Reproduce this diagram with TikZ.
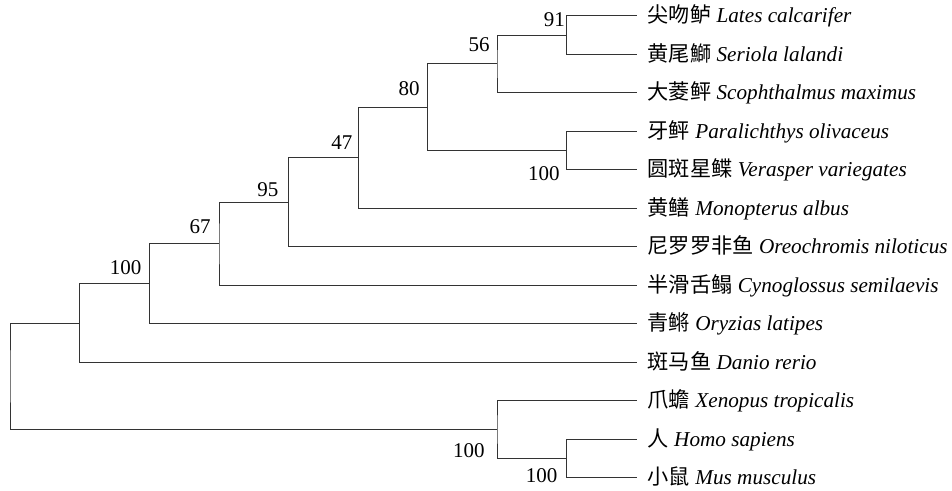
\documentclass[tikz,border=0pt]{standalone}
\usepackage{fontspec}
\setmainfont{Liberation Serif}
\newfontfamily\cjk{Noto Sans CJK SC}
\begin{document}
\begin{tikzpicture}[x=1pt,y=-1pt,
  br/.style={line width=0.9pt, draw=black!80, line join=miter},
  leaf/.style={anchor=base west, inner sep=0pt, font=\fontsize{21.2}{24}\selectfont},
  bs/.style={anchor=base east, inner sep=0pt, font=\fontsize{21}{24}\selectfont}]
\useasboundingbox (0,0) rectangle (952,490);
% leaf tips
\coordinate (t0)  at (636.7,15.7);
\coordinate (t1)  at (636.7,54.2);
\coordinate (t2)  at (636.7,92.7);
\coordinate (t3)  at (636.7,131.2);
\coordinate (t4)  at (636.7,169.7);
\coordinate (t5)  at (636.7,208.2);
\coordinate (t6)  at (636.7,246.7);
\coordinate (t7)  at (636.7,285.2);
\coordinate (t8)  at (636.7,323.7);
\coordinate (t9)  at (636.7,362.2);
\coordinate (t10) at (636.7,400.7);
\coordinate (t11) at (636.7,439.2);
\coordinate (t12) at (636.7,477.7);
% internal nodes
\coordinate (n91)   at (566.7,34.95);
\coordinate (n56)   at (497.0,63.8);
\coordinate (nF)    at (566.7,150.45);
\coordinate (n80)   at (427.3,107.1);
\coordinate (n47)   at (358.3,157.7);
\coordinate (n95)   at (288.7,202.2);
\coordinate (n67)   at (219.0,243.7);
\coordinate (n100)  at (149.5,283.7);
\coordinate (nfish) at (79.8,322.95);
\coordinate (nM)    at (566.7,458.45);
\coordinate (nT)    at (497.0,429.6);
\coordinate (root)  at (10.0,376.3);
% branches
\draw[br] (t0) -| (n91) |- (t1);
\draw[br] (n91) -| (n56) |- (t2);
\draw[br] (t3) -| (nF) |- (t4);
\draw[br] (n56) -| (n80) |- (nF);
\draw[br] (n80) -| (n47) |- (t5);
\draw[br] (n47) -| (n95) |- (t6);
\draw[br] (n95) -| (n67) |- (t7);
\draw[br] (n67) -| (n100) |- (t8);
\draw[br] (n100) -| (nfish) |- (t9);
\draw[br] (t11) -| (nM) |- (t12);
\draw[br] (t10) -| (nT) |- (nM);
\draw[br] (nfish) -| (root) |- (nT);
% leaf labels
\node[leaf] (l0)  at (647.5,22.9)  {{\cjk 尖吻鲈} \textit{Lates calcarifer}};
\node[leaf] (l1)  at (647.5,61.4)  {{\cjk 黄尾鰤} \textit{Seriola lalandi}};
\node[leaf] (l2)  at (647.5,99.9)  {{\cjk 大菱鲆} \textit{Scophthalmus maximus}};
\node[leaf] (l3)  at (647.5,138.4) {{\cjk 牙鲆} \textit{Paralichthys olivaceus}};
\node[leaf] (l4)  at (647.5,176.9) {{\cjk 圆斑星鲽} \textit{Verasper variegates}};
\node[leaf] (l5)  at (647.5,215.4) {{\cjk 黄鳝} \textit{Monopterus albus}};
\node[leaf] (l6)  at (647.5,253.9) {{\cjk 尼罗罗非鱼} \textit{Oreochromis niloticus}};
\node[leaf] (l7)  at (647.5,292.4) {{\cjk 半滑舌鳎} \textit{Cynoglossus semilaevis}};
\node[leaf] (l8)  at (647.5,330.9) {{\cjk 青鳉} \textit{Oryzias latipes}};
\node[leaf] (l9)  at (647.5,369.4) {{\cjk 斑马鱼} \textit{Danio rerio}};
\node[leaf] (l10) at (647.5,407.9) {{\cjk 爪蟾} \textit{Xenopus tropicalis}};
\node[leaf] (l11) at (647.5,446.4) {{\cjk 人} \textit{Homo sapiens}};
\node[leaf] (l12) at (647.5,484.9) {{\cjk 小鼠} \textit{Mus musculus}};
% bootstrap values
\node[bs] (b91)   at (565.0,26.0)  {91};
\node[bs] (b56)   at (489.8,51.7)  {56};
\node[bs] (b80)   at (419.8,95.0)  {80};
\node[bs] (b47)   at (352.5,149.3) {47};
\node[bs] (b95)   at (278.5,196.7) {95};
\node[bs] (b67)   at (210.8,233.0) {67};
\node[bs] (b100)  at (141.5,274.0) {100};
\node[bs] (bF)    at (559.8,180.0) {100};
\node[bs] (bT)    at (484.8,457.3) {100};
\node[bs] (bM)    at (557.5,482.7) {100};
\end{tikzpicture}
\end{document}
